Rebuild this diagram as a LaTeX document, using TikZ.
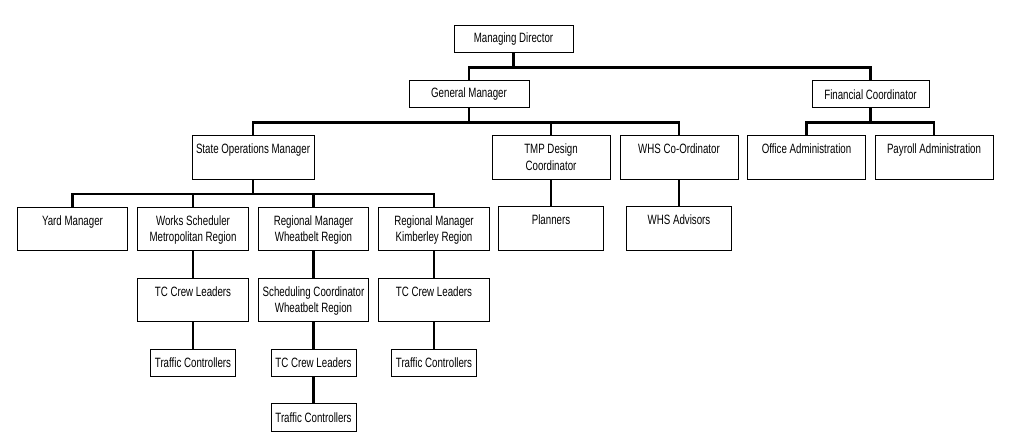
\documentclass[tikz,border=0pt]{standalone}
\usepackage{fontspec}
\setmainfont[FakeStretch=0.72]{Liberation Sans}
\usetikzlibrary{positioning}

\begin{document}
\begin{tikzpicture}[x=1pt,y=1pt,font=\fontsize{13.5}{16.5}\selectfont,
  box/.style={draw,line width=1pt,align=center,inner sep=0pt},
  short/.style={box,minimum width=119pt,minimum height=27pt},
  tall/.style={box,minimum width=118pt,minimum height=43.5pt,text height=18pt,text depth=25.5pt},
  twoline/.style={text height=34.5pt,text depth=9pt},
  unit/.style={tall,minimum width=110.5pt},
  small/.style={short,minimum width=85pt,minimum height=27.5pt},
  link/.style={line width=2.2pt}]
\useasboundingbox (0,0) rectangle (1024,441);
% top of the chart
\node[short] (md) at (513.5,401.5) {Managing Director};
\node[short,minimum width=120pt] (gm) at (469,346.5) {General Manager};
\node[short,minimum width=117pt] (fc) at (870.5,346.5) {Financial Coordinator};
% managers
\node[tall,minimum width=122pt] (som) at (253,283.5) {State Operations Manager};
\node[tall,twoline] (tmp) at (551,283.5) {TMP Design\\Coordinator};
\node[tall,node distance=128pt,right of=tmp] (whs) {WHS Co-Ordinator};
\node[tall,node distance=127.5pt,right of=whs] (oa) {Office Administration};
\node[tall,node distance=127.5pt,right of=oa] (pa) {Payroll Administration};
\node[tall,minimum width=105.5pt,node distance=71pt,below of=tmp] (plan) {Planners};
\node[tall,minimum width=105.5pt,node distance=71pt,below of=whs] (whsa) {WHS Advisors};
% regions
\node[unit] (ym) at (72.5,212) {Yard Manager};
\node[unit,twoline,node distance=120.5pt,right of=ym] (ws) {Works Scheduler\\Metropolitan Region};
\node[unit,twoline,node distance=120.5pt,right of=ws] (rmw) {Regional Manager\\Wheatbelt Region};
\node[unit,twoline,node distance=120.5pt,right of=rmw] (rmk) {Regional Manager\\Kimberley Region};
\node[unit,node distance=71pt,below of=ws] (tcl1) {TC Crew Leaders};
\node[unit,twoline,node distance=71pt,below of=rmw] (sc) {Scheduling Coordinator\\Wheatbelt Region};
\node[unit,node distance=71pt,below of=rmk] (tcl3) {TC Crew Leaders};
\node[small,node distance=63pt,below of=tcl1] (trc1) {Traffic Controllers};
\node[small,node distance=63pt,below of=sc] (tcl2) {TC Crew Leaders};
\node[small,node distance=63pt,below of=tcl3] (trc3) {Traffic Controllers};
\node[small,node distance=54.5pt,below of=tcl2] (trc2) {Traffic Controllers};
% connectors
\foreach \c in {gm,fc} \draw[link] (md.south) -- ++(0,-14pt) -| (\c.north);
\foreach \c in {som,tmp,whs} \draw[link] (gm.south) -- ++(0,-14pt) -| (\c.north);
\foreach \c in {oa,pa} \draw[link] (fc.south) -- ++(0,-14pt) -| (\c.north);
\foreach \c in {ym,ws,rmw,rmk} \draw[link] (som.south) -- ++(0,-14pt) -| (\c.north);
\foreach \a/\b in {tmp/plan,whs/whsa,ws/tcl1,tcl1/trc1,rmw/sc,sc/tcl2,tcl2/trc2,rmk/tcl3,tcl3/trc3}
  \draw[link] (\a) -- (\b);
\end{tikzpicture}
\end{document}
